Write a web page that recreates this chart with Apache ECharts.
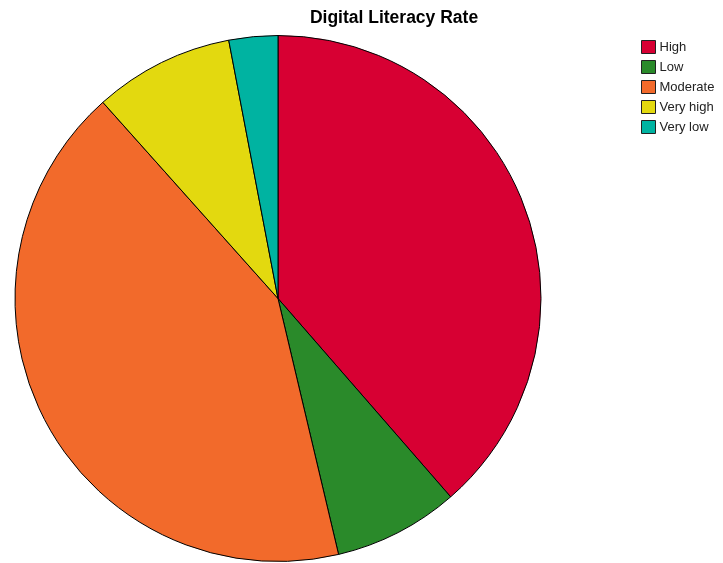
<!DOCTYPE html>
<html>
<head>
<meta charset="utf-8">
<script src="https://cdn.jsdelivr.net/npm/echarts@6/dist/echarts.min.js"></script>
<style>
  html, body { margin: 0; padding: 0; background: #fff; }
  #chart { width: 723px; height: 563px; }
</style>
</head>
<body>
<div id="chart"></div>
<script>
// Share of respondents by digital literacy level (percent)
const categories = ['High', 'Low', 'Moderate', 'Very high', 'Very low'];
const values = [38.6, 7.7, 42.1, 8.6, 3.0];
const colors = ['#d70033', '#2a8a2a', '#f26a2b', '#e3d90f', '#00b3a1'];

const chart = echarts.init(document.getElementById('chart'), null, { renderer: 'canvas' });

chart.setOption({
  animation: false,
  backgroundColor: '#ffffff',
  color: colors,
  title: {
    text: 'Digital Literacy Rate',
    left: 394,
    textAlign: 'center',
    top: 9,
    padding: 0,
    textStyle: {
      fontFamily: 'Liberation Sans, Arial, sans-serif',
      fontSize: 17.5,
      fontWeight: 'bold',
      color: '#000'
    }
  },
  legend: {
    orient: 'vertical',
    left: 641,
    top: 40,
    padding: 0,
    itemWidth: 14,
    itemHeight: 13,
    itemGap: 6,
    icon: 'rect',
    selectedMode: false,
    itemStyle: { borderColor: '#222', borderWidth: 1 },
    textStyle: {
      fontFamily: 'Liberation Sans, Arial, sans-serif',
      fontSize: 13,
      color: '#222',
      padding: [0, 0, 0, -1]
    },
    data: categories
  },
  series: [{
    type: 'pie',
    center: [278, 298.5],
    radius: 263,
    startAngle: 90,
    clockwise: true,
    label: { show: false },
    labelLine: { show: false },
    emphasis: { disabled: true },
    itemStyle: { borderColor: '#000', borderWidth: 1 },
    data: categories.map((name, i) => ({ name, value: values[i] }))
  }]
});
</script>
</body>
</html>
